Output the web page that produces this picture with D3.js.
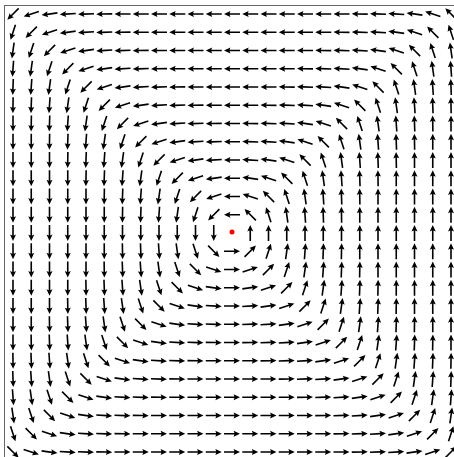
<!DOCTYPE html>
<html>
<head>
<meta charset="utf-8">
<script src="https://cdn.jsdelivr.net/npm/d3@7"></script>
<style>
  html, body { margin: 0; padding: 0; background: #fff; overflow: hidden; }
  svg { display: block; }
</style>
</head>
<body>
<script>
// Grid coordinates of the sample points (cells run from -12 to 12 on both axes).
const gridX = d3.range(-12, 13);
const gridY = d3.range(12, -13, -1); // rows listed top to bottom

// Arrow direction at each grid point, degrees counter-clockwise from +x.
// One row per gridY value, one entry per gridX value; null = no arrow (centre).
const angleRows = [
  [225,198,188,184,182,181,180,180,180,180,180,180,180,180,180,180,180,180,180,179,178,176,172,162,135],
  [252,225,198,188,184,182,181,180,180,180,180,180,180,180,180,180,180,180,179,178,176,172,162,135,108],
  [262,252,225,198,188,184,182,181,180,180,180,180,180,180,180,180,180,179,178,176,172,162,135,108,98],
  [266,262,252,225,198,188,184,182,181,180,180,180,180,180,180,180,179,178,176,172,162,135,108,98,94],
  [268,266,262,252,225,198,188,184,182,181,180,180,180,180,180,179,178,176,172,162,135,108,98,94,92],
  [269,268,266,262,252,225,198,188,184,182,181,180,180,180,179,178,176,172,162,135,108,98,94,92,91],
  [270,269,268,266,262,252,225,198,188,184,182,181,180,179,178,176,172,162,135,108,98,94,92,91,90],
  [270,270,269,268,266,262,252,225,198,188,184,182,180,178,176,172,162,135,108,98,94,92,91,90,90],
  [270,270,270,269,268,266,262,252,225,198,188,184,180,176,172,162,135,108,98,94,92,91,90,90,90],
  [270,270,270,270,269,268,266,262,252,225,198,188,180,172,162,135,108,98,94,92,91,90,90,90,90],
  [270,270,270,270,270,269,268,266,262,252,225,198,180,162,135,108,98,94,92,91,90,90,90,90,90],
  [270,270,270,270,270,270,269,268,266,262,252,225,180,135,108,98,94,92,91,90,90,90,90,90,90],
  [270,270,270,270,270,270,270,270,270,270,270,270,null,90,90,90,90,90,90,90,90,90,90,90,90],
  [270,270,270,270,270,270,271,272,274,278,288,315,0,45,72,82,86,88,89,90,90,90,90,90,90],
  [270,270,270,270,270,271,272,274,278,288,315,342,0,18,45,72,82,86,88,89,90,90,90,90,90],
  [270,270,270,270,271,272,274,278,288,315,342,352,0,8,18,45,72,82,86,88,89,90,90,90,90],
  [270,270,270,271,272,274,278,288,315,342,352,356,0,4,8,18,45,72,82,86,88,89,90,90,90],
  [270,270,271,272,274,278,288,315,342,352,356,358,0,2,4,8,18,45,72,82,86,88,89,90,90],
  [270,271,272,274,278,288,315,342,352,356,358,359,0,1,2,4,8,18,45,72,82,86,88,89,90],
  [271,272,274,278,288,315,342,352,356,358,359,0,0,0,1,2,4,8,18,45,72,82,86,88,89],
  [272,274,278,288,315,342,352,356,358,359,0,0,0,0,0,1,2,4,8,18,45,72,82,86,88],
  [274,278,288,315,342,352,356,358,359,0,0,0,0,0,0,0,1,2,4,8,18,45,72,82,86],
  [278,288,315,342,352,356,358,359,0,0,0,0,0,0,0,0,0,1,2,4,8,18,45,72,82],
  [288,315,342,352,356,358,359,0,0,0,0,0,0,0,0,0,0,0,1,2,4,8,18,45,72],
  [315,342,352,356,358,359,0,0,0,0,0,0,0,0,0,0,0,0,0,1,2,4,8,18,45]
];

// Vortex centre marker.
const centrePoint = [0, 0];

// Plot limits in grid units.
const xLimits = [-12.5, 12.5];
const yLimits = [-12.5, 12.5];

const width = 454, height = 457;

const x = d3.scaleLinear().domain([-12, 12]).range([13, 451]);
const y = d3.scaleLinear().domain([-12, 12]).range([452, 14]);

const svg = d3.select("body").append("svg")
  .attr("width", width)
  .attr("height", height);

// Axes frame (right and bottom edges fall outside the viewport).
svg.append("rect")
  .attr("x", Math.round(x(xLimits[0])) + 0.5)
  .attr("y", Math.round(y(yLimits[1])) + 0.5)
  .attr("width", x(xLimits[1]) - x(xLimits[0]))
  .attr("height", y(yLimits[0]) - y(yLimits[1]))
  .attr("fill", "none")
  .attr("stroke", "#666")
  .attr("stroke-width", 1);

// Flatten the grid into arrow records.
const arrows = [];
angleRows.forEach((row, i) => {
  row.forEach((a, j) => {
    if (a !== null) arrows.push({ gx: gridX[j], gy: gridY[i], angle: a });
  });
});

// Quiver-style arrow centred on its grid point, pointing along +x.
const L = 16, sw = 1.6, hl = 6.4, hw = 6.0, hal = 5.6;
const half = L / 2;
const arrowPath = d3.line()([
  [-half, -sw / 2],
  [half - hal, -sw / 2],
  [half - hl, -hw / 2],
  [half, 0],
  [half - hl, hw / 2],
  [half - hal, sw / 2],
  [-half, sw / 2]
]) + "Z";

svg.append("g")
  .selectAll("path")
  .data(arrows)
  .join("path")
  .attr("d", arrowPath)
  .attr("transform", d => `translate(${x(d.gx)},${y(d.gy)}) rotate(${-d.angle})`)
  .attr("fill", "#000");

svg.append("circle")
  .attr("cx", x(centrePoint[0]))
  .attr("cy", y(centrePoint[1]) - 1)
  .attr("r", 2.5)
  .attr("fill", "red");
</script>
</body>
</html>
